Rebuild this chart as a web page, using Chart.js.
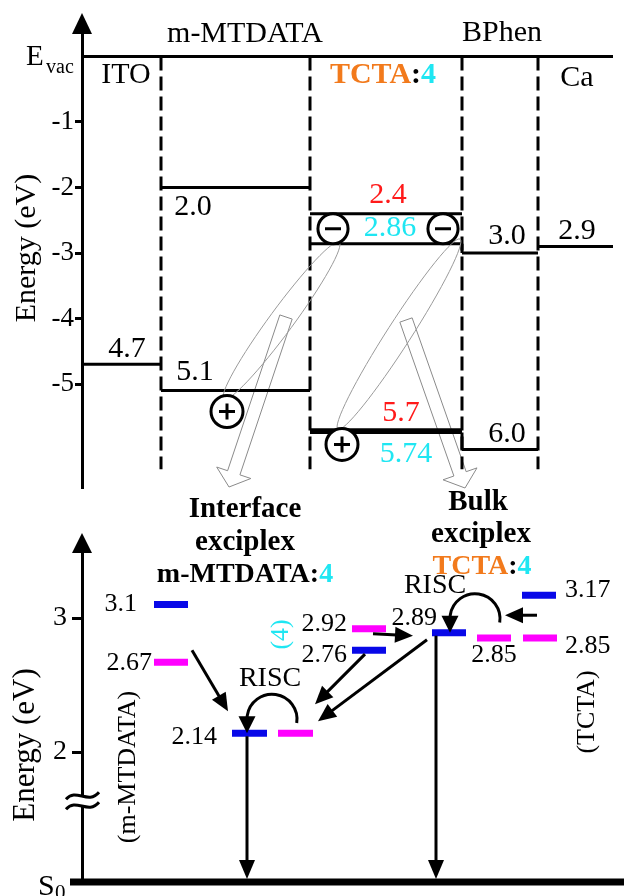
<!DOCTYPE html>
<html>
<head>
<meta charset="utf-8">
<script src="https://cdn.jsdelivr.net/npm/chart.js@4.4.1/dist/chart.umd.min.js"></script>
<style>
  html, body { margin: 0; padding: 0; background: #fff; }
  #wrap { position: relative; width: 624px; height: 896px; overflow: hidden; }
  canvas { position: absolute; left: 0; }
  #levels { top: 0; }
  #states { top: 480px; }
</style>
</head>
<body>
<div id="wrap">
  <canvas id="levels" width="624" height="507"></canvas>
  <canvas id="states" width="624" height="426"></canvas>
</div>
<script>
// ---------- Top panel: frontier levels of the device stack (eV below vacuum) ----------
const layers = ['ITO', 'm-MTDATA', 'TCTA:4', 'BPhen', 'Ca'];
const upperLevels = [null, 2.0, 2.4, 3.0, 2.9];   // LUMO (work function for Ca)
const lowerLevels = [4.7, 5.1, 5.7, 6.0, null];   // HOMO (work function for ITO)
const emitterLevels = [2.86, 5.74];               // LUMO / HOMO of 4 inside TCTA:4
const energyTicks = [-1, -2, -3, -4, -5];

// ---------- Bottom panel: excited-state energies (eV) ----------
const states = ['m-MTDATA', 'Interface exciplex', '4', 'Bulk exciplex', 'TCTA'];
const singletLevels = [3.1, 2.14, 2.76, 2.89, 3.17];  // blue bars
const tripletLevels = [2.67, 2.14, 2.92, 2.85, 2.85]; // magenta bars
const stateTicks = [2, 3];

// ---------- layout (pixels) ----------
const layerEdges = [82, 161, 310, 462, 538, 613];
const singletSpan = [[154, 188], [232, 267], [352, 386], [432, 466], [522, 556]];
const tripletSpan = [[154, 188], [278, 313], [352, 386], [477, 511], [523, 557]];
const BOTTOM_TOP = 480;       // page offset of the lower canvas
const axisBreakAt = 1.64;     // where the energy axis is broken

const SERIF = "'Liberation Serif', 'Times New Roman', serif";
const RED = '#ff1a1a', CYAN = '#1fe6f2', ORANGE = '#f27a1c', BLUE = '#0808e8', MAGENTA = '#ff00ff', BLACK = '#000';

const font = (size, bold) => (bold ? 'bold ' : '') + size + 'px ' + SERIF;
const fmt = v => (Math.round(v * 100) % 10 === 0 ? v.toFixed(1) : v.toFixed(2));

function text(ctx, s, x, y, size, o = {}) {
  ctx.font = font(size, o.bold);
  ctx.fillStyle = o.color || BLACK;
  ctx.textAlign = o.align || 'center';
  ctx.textBaseline = o.baseline || 'middle';
  ctx.fillText(s, x, y);
}
function richText(ctx, parts, cx, y, size, bold) {
  ctx.font = font(size, bold);
  const w = parts.reduce((a, p) => a + ctx.measureText(p[0]).width, 0);
  let x = cx - w / 2;
  ctx.textAlign = 'left';
  ctx.textBaseline = 'alphabetic';
  parts.forEach(([s, c]) => { ctx.fillStyle = c; ctx.fillText(s, x, y); x += ctx.measureText(s).width; });
}
function rotatedText(ctx, s, x, y, size, color) {
  ctx.save();
  ctx.translate(x, y);
  ctx.rotate(-Math.PI / 2);
  ctx.font = font(size);
  ctx.fillStyle = color || BLACK;
  ctx.textAlign = 'center';
  ctx.textBaseline = 'alphabetic';
  ctx.fillText(s, 0, 0);
  ctx.restore();
}
function head(ctx, x1, y1, a, hl, hw) {
  const c = Math.cos(a), s = Math.sin(a);
  const bx = x1 - c * hl, by = y1 - s * hl;
  ctx.beginPath();
  ctx.moveTo(x1, y1);
  ctx.lineTo(bx - s * hw / 2, by + c * hw / 2);
  ctx.lineTo(bx + s * hw / 2, by - c * hw / 2);
  ctx.closePath();
  ctx.fill();
}
function arrow(ctx, x0, y0, x1, y1, hl = 18, hw = 16) {
  const a = Math.atan2(y1 - y0, x1 - x0);
  ctx.strokeStyle = BLACK; ctx.fillStyle = BLACK; ctx.lineWidth = 3; ctx.lineCap = 'butt';
  ctx.beginPath();
  ctx.moveTo(x0, y0);
  ctx.lineTo(x1 - Math.cos(a) * (hl - 2), y1 - Math.sin(a) * (hl - 2));
  ctx.stroke();
  head(ctx, x1, y1, a, hl, hw);
}
function riscArrow(ctx, cx, cy, r) {
  ctx.strokeStyle = BLACK; ctx.fillStyle = BLACK; ctx.lineWidth = 3;
  ctx.beginPath();
  ctx.arc(cx, cy, r, 0.15, Math.PI, true);
  ctx.stroke();
  head(ctx, cx - r, cy + 14, Math.PI / 2, 17, 17);
}
function hollowArrow(ctx, x0, y0, x1, y1, sw = 13, hw = 36, hl = 15) {
  const a = Math.atan2(y1 - y0, x1 - x0), c = Math.cos(a), s = Math.sin(a);
  const nx = -s, ny = c, bx = x1 - c * hl, by = y1 - s * hl;
  const pts = [
    [x0 + nx * sw / 2, y0 + ny * sw / 2], [bx + nx * sw / 2, by + ny * sw / 2],
    [bx + nx * hw / 2, by + ny * hw / 2], [x1, y1],
    [bx - nx * hw / 2, by - ny * hw / 2], [bx - nx * sw / 2, by - ny * sw / 2],
    [x0 - nx * sw / 2, y0 - ny * sw / 2]
  ];
  ctx.beginPath();
  pts.forEach((p, i) => (i ? ctx.lineTo(p[0], p[1]) : ctx.moveTo(p[0], p[1])));
  ctx.closePath();
  ctx.strokeStyle = '#8a8a8a'; ctx.lineWidth = 1; ctx.stroke();
}
function pairEllipse(ctx, p, q) {
  const cx = (p[0] + q[0]) / 2, cy = (p[1] + q[1]) / 2;
  const len = Math.hypot(q[0] - p[0], q[1] - p[1]);
  ctx.beginPath();
  ctx.ellipse(cx, cy, len / 2 + 2, 12, Math.atan2(q[1] - p[1], q[0] - p[0]), 0, Math.PI * 2);
  ctx.strokeStyle = '#9a9a9a'; ctx.lineWidth = 1; ctx.stroke();
}
function charge(ctx, x, y, r, plus) {
  ctx.beginPath();
  ctx.arc(x, y, r, 0, Math.PI * 2);
  ctx.fillStyle = '#fff'; ctx.fill();
  ctx.strokeStyle = BLACK; ctx.lineWidth = 3; ctx.stroke();
  ctx.beginPath();
  ctx.moveTo(x - 8, y); ctx.lineTo(x + 8, y);
  if (plus) { ctx.moveTo(x, y - 8); ctx.lineTo(x, y + 8); }
  ctx.stroke();
}
function seg(x0, x1, y0, y1, color, width, dash) {
  return {
    data: [{ x: x0, y: y0 }, { x: x1, y: y1 }],
    borderColor: color, borderWidth: width, borderDash: dash || [],
    borderCapStyle: 'butt', pointRadius: 0, fill: false, tension: 0
  };
}

// ================= top chart =================
const levelSets = [seg(layerEdges[0], layerEdges[5], 0, 0, BLACK, 3)];        // vacuum level
for (let i = 1; i < layerEdges.length - 1; i++) {
  levelSets.push(seg(layerEdges[i], layerEdges[i], 0, -6.3, BLACK, 3, [14, 6])); // layer borders
}
layers.forEach((name, i) => {
  if (upperLevels[i] != null) levelSets.push(seg(layerEdges[i], layerEdges[i + 1], -upperLevels[i], -upperLevels[i], BLACK, 3));
  if (lowerLevels[i] != null) levelSets.push(seg(layerEdges[i], layerEdges[i + 1], -lowerLevels[i], -lowerLevels[i], BLACK, 3));
});
levelSets.push(seg(layerEdges[2], layerEdges[3], -emitterLevels[0], -emitterLevels[0], BLACK, 3));
levelSets.push(seg(layerEdges[2], layerEdges[3], -emitterLevels[1], -emitterLevels[1], BLACK, 3));
levelSets.push(seg(layerEdges[3], layerEdges[3], -emitterLevels[0], -upperLevels[3], BLACK, 3));
levelSets.push(seg(layerEdges[3], layerEdges[3], -emitterLevels[1], -lowerLevels[3], BLACK, 3));

// value tags: which level, where, offset from the line
const levelTags = [
  { v: lowerLevels[0], x: 127, dy: -15 },
  { v: upperLevels[1], x: 193, dy: 20 },
  { v: lowerLevels[1], x: 195, dy: -18 },
  { v: upperLevels[2], x: 388, dy: -19, c: RED },
  { v: emitterLevels[0], x: 390, dy: -16, c: CYAN },
  { v: lowerLevels[2], x: 401, dy: -17, c: RED },
  { v: emitterLevels[1], x: 406, dy: 22, c: CYAN },
  { v: upperLevels[3], x: 507, dy: -17 },
  { v: lowerLevels[3], x: 507, dy: -15 },
  { v: upperLevels[4], x: 577, dy: -15 }
];

const levelDecor = {
  id: 'levelDecor',
  beforeDatasetsDraw(chart) {
    const ctx = chart.ctx;
    ctx.save();
    hollowArrow(ctx, 286, 317, 229, 487);
    hollowArrow(ctx, 406, 320, 465, 488);
    ctx.restore();
  },
  afterDatasetsDraw(chart) {
    const ctx = chart.ctx, ys = chart.scales.y;
    const py = v => ys.getPixelForValue(-v);
    const ax = chart.chartArea.left;
    ctx.save();
    ctx.fillStyle = BLACK;
    ctx.beginPath(); ctx.moveTo(ax, 13); ctx.lineTo(ax - 10, 34); ctx.lineTo(ax + 10, 34); ctx.closePath(); ctx.fill();

    rotatedText(ctx, 'Energy (eV)', 35, 248, 30);
    text(ctx, 'E', 26, 65, 29, { align: 'left', baseline: 'alphabetic' });
    text(ctx, 'vac', 46, 73, 20, { align: 'left', baseline: 'alphabetic' });

    text(ctx, 'm-MTDATA', 245, 42, 30, { baseline: 'alphabetic' });
    text(ctx, 'BPhen', 502, 41, 30, { baseline: 'alphabetic' });
    text(ctx, 'ITO', 126, 83, 30, { baseline: 'alphabetic' });
    text(ctx, 'Ca', 577, 86, 30, { baseline: 'alphabetic' });
    richText(ctx, [['TCTA', ORANGE], [':', BLACK], ['4', CYAN]], 383, 83, 30, true);

    levelTags.forEach(t => text(ctx, fmt(t.v), t.x, py(t.v) + t.dy, 30, { color: t.c }));

    // electron / hole pairs
    const mTop = py(upperLevels[2]), mBot = py(emitterLevels[0]);
    const mr = (mBot - mTop) / 2, my = (mTop + mBot) / 2;
    const minus1 = [333, my], minus2 = [443, my];
    const plus1 = [227, py(lowerLevels[1]) + 21], plus2 = [342, py(emitterLevels[1]) + 12];
    pairEllipse(ctx, [plus1[0] - 2, plus1[1] - 14], [minus1[0] + 5, minus1[1] + 15]);
    pairEllipse(ctx, [plus2[0] - 3, plus2[1] - 17], [minus2[0] + 16, minus2[1] + 12]);
    charge(ctx, minus1[0], minus1[1], mr, false);
    charge(ctx, minus2[0], minus2[1], mr, false);
    charge(ctx, plus1[0], plus1[1], 16, true);
    charge(ctx, plus2[0], plus2[1], 16, true);
    ctx.restore();
  }
};

new Chart(document.getElementById('levels'), {
  type: 'line',
  data: { datasets: levelSets },
  options: {
    responsive: false,
    animation: false,
    events: [],
    layout: { padding: { left: 0, right: 11, top: 22, bottom: 20 } },
    plugins: { legend: { display: false }, tooltip: { enabled: false } },
    scales: {
      x: { type: 'linear', min: layerEdges[0], max: layerEdges[5], display: false },
      y: {
        type: 'linear', min: -6.5725, max: 0.5267,
        afterFit: s => { s.width = 82; },
        afterBuildTicks: s => { s.ticks = energyTicks.map(v => ({ value: v })); },
        ticks: { font: { family: SERIF, size: 27 }, color: BLACK, padding: 1 },
        grid: { drawOnChartArea: false, drawTicks: true, tickLength: 7, color: BLACK, lineWidth: 3 },
        border: { display: true, color: BLACK, width: 3 }
      }
    }
  },
  plugins: [levelDecor]
});

// ================= bottom chart =================
const stateSets = [];
states.forEach((s, i) => {
  stateSets.push(seg(singletSpan[i][0], singletSpan[i][1], singletLevels[i], singletLevels[i], BLUE, 7));
  stateSets.push(seg(tripletSpan[i][0], tripletSpan[i][1], tripletLevels[i], tripletLevels[i], MAGENTA, 7));
});

const stateTags = [
  { v: singletLevels[0], x: 137, dy: 0, align: 'right' },
  { v: tripletLevels[0], x: 152, dy: 1, align: 'right' },
  { v: singletLevels[1], x: 217, dy: 4, align: 'right' },
  { v: tripletLevels[2], x: 347, dy: -5, align: 'right' },
  { v: singletLevels[2], x: 347, dy: 5, align: 'right' },
  { v: singletLevels[3], x: 437, dy: -15, align: 'right' },
  { v: tripletLevels[3], x: 494, dy: 17, align: 'center' },
  { v: singletLevels[4], x: 565, dy: -5, align: 'left' },
  { v: tripletLevels[4], x: 565, dy: 8, align: 'left' }
];

const stateDecor = {
  id: 'stateDecor',
  afterDatasetsDraw(chart) {
    const ctx = chart.ctx, ys = chart.scales.y, area = chart.chartArea;
    ctx.save();
    ctx.translate(0, -BOTTOM_TOP);                       // page coordinates below
    const py = v => ys.getPixelForValue(v) + BOTTOM_TOP;
    const ax = area.left, base = area.bottom + BOTTOM_TOP;

    // axis arrow, ground-state line, axis break
    ctx.fillStyle = BLACK;
    ctx.beginPath(); ctx.moveTo(ax, 533); ctx.lineTo(ax - 10, 553); ctx.lineTo(ax + 10, 553); ctx.closePath(); ctx.fill();
    ctx.fillRect(70, base - 3.5, 624 - 70, 7);
    text(ctx, 'S', 38, 895, 30, { align: 'left', baseline: 'alphabetic' });
    text(ctx, '0', 55, 899, 21, { align: 'left', baseline: 'alphabetic' });
    const yb = py(axisBreakAt);
    ctx.fillStyle = '#fff';
    ctx.beginPath();
    ctx.moveTo(66, yb - 1); ctx.bezierCurveTo(76, yb - 13, 88, yb + 5, 99, yb - 8);
    ctx.lineTo(99, yb + 2); ctx.bezierCurveTo(88, yb + 15, 76, yb - 3, 66, yb + 9);
    ctx.closePath(); ctx.fill();
    ctx.strokeStyle = BLACK; ctx.lineWidth = 3;
    ctx.beginPath(); ctx.moveTo(66, yb - 1); ctx.bezierCurveTo(76, yb - 13, 88, yb + 5, 99, yb - 8); ctx.stroke();
    ctx.beginPath(); ctx.moveTo(66, yb + 9); ctx.bezierCurveTo(76, yb - 3, 88, yb + 15, 99, yb + 2); ctx.stroke();

    rotatedText(ctx, 'Energy (eV)', 34, 745, 31);
    rotatedText(ctx, '(m-MTDATA)', 135, 767, 26);
    rotatedText(ctx, '(TCTA)', 594, 712, 26);

    // headings
    text(ctx, 'Interface', 245, 517, 29, { bold: true, baseline: 'alphabetic' });
    text(ctx, 'exciplex', 245, 550, 29, { bold: true, baseline: 'alphabetic' });
    richText(ctx, [['m-MTDATA', BLACK], [':', BLACK], ['4', CYAN]], 245, 582, 28, true);
    text(ctx, 'Bulk', 478, 510, 29, { bold: true, baseline: 'alphabetic' });
    text(ctx, 'exciplex', 481, 542, 29, { bold: true, baseline: 'alphabetic' });
    richText(ctx, [['TCTA', ORANGE], [':', BLACK], ['4', CYAN]], 482, 574, 28, true);

    stateTags.forEach(t => text(ctx, fmt(t.v), t.x, py(t.v) + t.dy, 26, { align: t.align }));
    const y4 = (py(singletLevels[2]) + py(tripletLevels[2])) / 2;
    rotatedText(ctx, '(4)', 288, y4 - 5, 26, CYAN);

    // transitions
    const iY = py(singletLevels[1]);
    const t0 = py(tripletLevels[0]);
    const s4 = py(singletLevels[2]), t4 = py(tripletLevels[2]);
    const sB = py(singletLevels[3]);
    const sT = py(singletLevels[4]);
    arrow(ctx, 192, t0 - 12, 228, iY - 22);
    riscArrow(ctx, 272, iY - 14, 25);
    text(ctx, 'RISC', 270, iY - 47, 28, { baseline: 'alphabetic' });
    arrow(ctx, 365, Math.max(s4, t4) + 4, 315, iY - 29);
    arrow(ctx, 427, sB + 7, 318, iY - 12);
    arrow(ctx, 373, t4 + 5, 413, sB + 3);
    riscArrow(ctx, 475, sB - 14, 25);
    text(ctx, 'RISC', 435, sB - 40, 28, { baseline: 'alphabetic' });
    arrow(ctx, 537, sT + 20, 505, sT + 20);
    arrow(ctx, 247, iY + 3, 247, base - 3, 19, 16);
    arrow(ctx, 436, sB + 3, 436, base - 3, 19, 16);
    ctx.restore();
  }
};

new Chart(document.getElementById('states'), {
  type: 'line',
  data: { datasets: stateSets },
  options: {
    responsive: false,
    animation: false,
    events: [],
    layout: { padding: { left: 0, right: 0, top: 68, bottom: 24 } },
    plugins: { legend: { display: false }, tooltip: { enabled: false } },
    scales: {
      x: { type: 'linear', min: 82, max: 624, display: false },
      y: {
        type: 'linear', min: 1.0299, max: 3.5224,
        afterFit: s => { s.width = 82; },
        afterBuildTicks: s => { s.ticks = stateTicks.map(v => ({ value: v })); },
        ticks: { font: { family: SERIF, size: 28 }, color: BLACK, padding: 5 },
        grid: { drawOnChartArea: false, drawTicks: true, tickLength: 10, color: BLACK, lineWidth: 3 },
        border: { display: true, color: BLACK, width: 3 }
      }
    }
  },
  plugins: [stateDecor]
});
</script>
</body>
</html>
